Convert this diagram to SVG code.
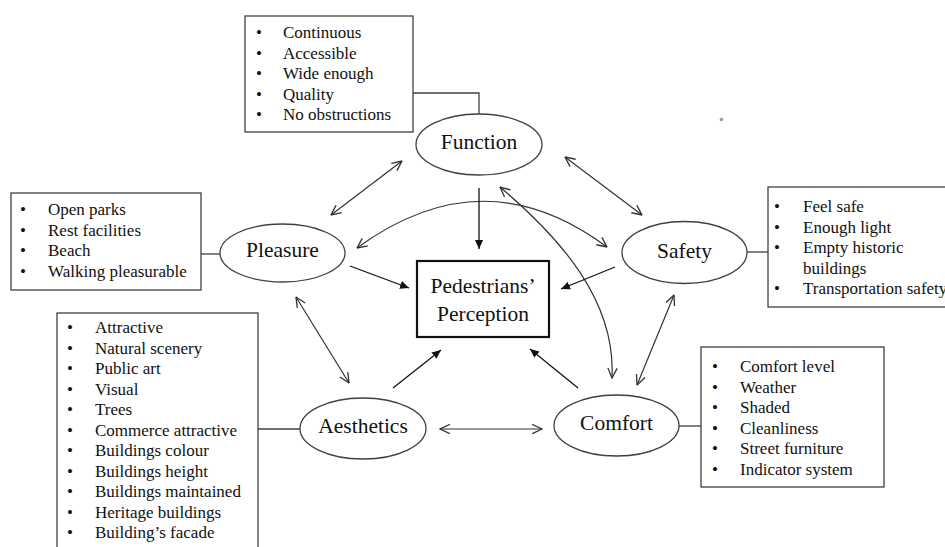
<svg xmlns="http://www.w3.org/2000/svg" width="945" height="547" viewBox="0 0 945 547" font-family="'Liberation Serif', 'Times New Roman', Times, 'DejaVu Serif', serif">
  <style>
    .box { fill: #fff; stroke: #404040; stroke-width: 1.3; }
    .core { fill: #fff; stroke: #111; stroke-width: 2.2; }
    .node { fill: #fff; stroke: #404040; stroke-width: 1.3; }
    .label { font-size: 21.5px; fill: #111; text-anchor: middle; }
    .item { font-size: 17px; fill: #111; }
    .link { fill: none; stroke: #404040; stroke-width: 1.3; }
    .conn { fill: none; stroke: #333; stroke-width: 1.2; }
    .solid { fill: none; stroke: #111; stroke-width: 1.3; }
  </style>
  <defs>
    <marker id="open" viewBox="0 0 10 10" refX="9.5" refY="5" markerWidth="11" markerHeight="11" markerUnits="userSpaceOnUse" orient="auto-start-reverse">
      <path d="M0.5,0.8 L9.5,5 L0.5,9.2" fill="none" stroke="#333" stroke-width="1.2"/>
    </marker>
    <marker id="solid" viewBox="0 0 10 10" refX="10" refY="5" markerWidth="9" markerHeight="9" markerUnits="userSpaceOnUse" orient="auto">
      <path d="M0,0.5 L10,5 L0,9.5 z" fill="#111"/>
    </marker>
  </defs>

  <rect width="945" height="547" fill="#fff"/>

  <!-- connectors -->
  <g id="connectors">
    <!-- attribute lists to their factor -->
    <path class="link" d="M413,93 H479 V114"/>
    <path class="link" d="M201,254 H220"/>
    <path class="link" d="M747,252 H768"/>
    <path class="link" d="M258,429 H300"/>
    <path class="link" d="M679,426 H701"/>

    <!-- two-way relations between factors -->
    <line class="conn" x1="402" y1="161" x2="331" y2="215" marker-start="url(#open)" marker-end="url(#open)"/>
    <line class="conn" x1="565" y1="157" x2="642" y2="215" marker-start="url(#open)" marker-end="url(#open)"/>
    <line class="conn" x1="296" y1="297" x2="349" y2="383" marker-start="url(#open)" marker-end="url(#open)"/>
    <line class="conn" x1="674" y1="295" x2="637" y2="385" marker-start="url(#open)" marker-end="url(#open)"/>
    <line class="conn" x1="440" y1="429" x2="542" y2="429" marker-start="url(#open)" marker-end="url(#open)"/>
    <path class="conn" d="M357,248 Q484,155 607,247" marker-start="url(#open)" marker-end="url(#open)"/>
    <path class="conn" d="M500,187 C560,238 616,300 612,378" marker-start="url(#open)" marker-end="url(#open)"/>

    <!-- factors feeding the perception -->
    <line class="solid" x1="479" y1="188" x2="479" y2="249" marker-end="url(#solid)"/>
    <line class="solid" x1="350" y1="266" x2="409" y2="288" marker-end="url(#solid)"/>
    <line class="solid" x1="615" y1="267" x2="561" y2="289" marker-end="url(#solid)"/>
    <line class="solid" x1="393" y1="388" x2="441" y2="350" marker-end="url(#solid)"/>
    <line class="solid" x1="578" y1="388" x2="530" y2="349" marker-end="url(#solid)"/>
  </g>

  <!-- central outcome -->
  <g id="perception">
    <rect class="core" x="417" y="261" width="132" height="76"/>
    <text class="label" x="483" y="293">Pedestrians’</text>
    <text class="label" x="483" y="321">Perception</text>
  </g>

  <!-- factors -->
  <g id="function">
    <ellipse class="node" cx="479" cy="144.5" rx="63" ry="30.5"/>
    <text class="label" x="479" y="149">Function</text>
  </g>
  <g id="pleasure">
    <ellipse class="node" cx="282.5" cy="253" rx="62.5" ry="29"/>
    <text class="label" x="282.5" y="257">Pleasure</text>
  </g>
  <g id="safety">
    <ellipse class="node" cx="684.5" cy="252.5" rx="62.5" ry="31"/>
    <text class="label" x="684.5" y="258">Safety</text>
  </g>
  <g id="aesthetics">
    <ellipse class="node" cx="363" cy="428.5" rx="63" ry="30.5"/>
    <text class="label" x="363" y="433">Aesthetics</text>
  </g>
  <g id="comfort">
    <ellipse class="node" cx="616.5" cy="425.5" rx="62.5" ry="30.5"/>
    <text class="label" x="616.5" y="430">Comfort</text>
  </g>

  <!-- attribute lists -->
  <g id="function-items">
    <rect class="box" x="245" y="16" width="168" height="116"/>
    <g class="item">
      <text x="256" y="38">•</text><text x="283" y="38">Continuous</text>
      <text x="256" y="58.5">•</text><text x="283" y="58.5">Accessible</text>
      <text x="256" y="79">•</text><text x="283" y="79">Wide enough</text>
      <text x="256" y="99.5">•</text><text x="283" y="99.5">Quality</text>
      <text x="256" y="120">•</text><text x="283" y="120">No obstructions</text>
    </g>
  </g>
  <g id="pleasure-items">
    <rect class="box" x="11" y="193" width="190" height="97"/>
    <g class="item">
      <text x="20" y="215">•</text><text x="48" y="215">Open parks</text>
      <text x="20" y="235.5">•</text><text x="48" y="235.5">Rest facilities</text>
      <text x="20" y="256">•</text><text x="48" y="256">Beach</text>
      <text x="20" y="276.5">•</text><text x="48" y="276.5">Walking pleasurable</text>
    </g>
  </g>
  <g id="safety-items">
    <rect class="box" x="768" y="187" width="190" height="120"/>
    <g class="item">
      <text x="774" y="212">•</text><text x="803" y="212">Feel safe</text>
      <text x="774" y="232.5">•</text><text x="803" y="232.5">Enough light</text>
      <text x="774" y="253">•</text><text x="803" y="253">Empty historic</text>
      <text x="803" y="273.5">buildings</text>
      <text x="774" y="294">•</text><text x="803" y="294">Transportation safety</text>
    </g>
  </g>
  <g id="aesthetics-items">
    <rect class="box" x="57" y="313" width="201" height="250"/>
    <g class="item">
      <text x="67" y="333">•</text><text x="95" y="333">Attractive</text>
      <text x="67" y="353.5">•</text><text x="95" y="353.5">Natural scenery</text>
      <text x="67" y="374">•</text><text x="95" y="374">Public art</text>
      <text x="67" y="394.5">•</text><text x="95" y="394.5">Visual</text>
      <text x="67" y="415">•</text><text x="95" y="415">Trees</text>
      <text x="67" y="435.5">•</text><text x="95" y="435.5">Commerce attractive</text>
      <text x="67" y="456">•</text><text x="95" y="456">Buildings colour</text>
      <text x="67" y="476.5">•</text><text x="95" y="476.5">Buildings height</text>
      <text x="67" y="497">•</text><text x="95" y="497">Buildings maintained</text>
      <text x="67" y="517.5">•</text><text x="95" y="517.5">Heritage buildings</text>
      <text x="67" y="538">•</text><text x="95" y="538">Building’s facade</text>
    </g>
  </g>
  <g id="comfort-items">
    <rect class="box" x="701" y="347" width="183" height="140"/>
    <g class="item">
      <text x="712" y="372">•</text><text x="740" y="372">Comfort level</text>
      <text x="712" y="392.5">•</text><text x="740" y="392.5">Weather</text>
      <text x="712" y="413">•</text><text x="740" y="413">Shaded</text>
      <text x="712" y="433.5">•</text><text x="740" y="433.5">Cleanliness</text>
      <text x="712" y="454">•</text><text x="740" y="454">Street furniture</text>
      <text x="712" y="474.5">•</text><text x="740" y="474.5">Indicator system</text>
    </g>
  </g>

  <!-- small grey speck -->
  <circle cx="721.5" cy="119.5" r="1.8" fill="#999"/>
</svg>
